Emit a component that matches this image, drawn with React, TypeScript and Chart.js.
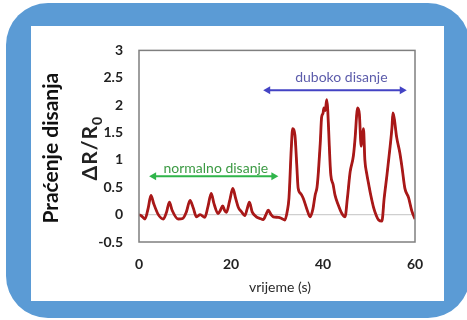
import React, { useEffect, useRef } from "react";
import Chart from "chart.js/auto";

// time (s)
const times = [
  0, 0.5, 1.3, 2.0, 2.6, 3.2, 4.2, 5.3, 6.0, 6.6, 7.2, 8.5, 9.5, 10.3, 11.1, 11.8, 12.5, 13.3, 14.3, 15.0,
  15.7, 16.3, 17.2, 17.7, 18.2, 18.6, 19.0, 19.7, 20.4, 21.0, 21.6, 22.3, 23.0, 23.5, 24.0, 24.6, 25.5, 26.3,
  27.0, 27.6, 28.1, 28.7, 29.2, 30.3, 31.0, 31.7, 32.2, 32.6, 33.1, 33.4, 33.9, 34.3, 34.6, 35.2, 35.7, 36.5,
  37.2, 37.8, 38.3, 38.7, 39.0, 39.4, 39.7, 40.0, 40.2, 40.5, 40.8, 41.0, 41.2, 41.5, 41.7, 42.2, 42.6, 43.3,
  44.1, 44.8, 45.3, 45.9, 46.6, 47.0, 47.3, 47.5, 47.9, 48.3, 48.6, 48.8, 49.1, 49.5, 49.9, 50.4, 51.0, 51.6,
  52.1, 52.8, 53.3, 53.9, 54.6, 55.0, 55.2, 55.5, 56.0, 56.7, 57.2, 57.8, 58.6, 59.3, 60,
];
// ΔR/R0
const signal = [
  0.0, -0.02, -0.08, 0.12, 0.35, 0.2, 0.0, -0.08, 0.05, 0.23, 0.08, -0.08, -0.07, 0.05, 0.26, 0.12, -0.04, 0.0, -0.05, 0.15,
  0.39, 0.2, 0.02, 0.08, 0.16, 0.08, 0.04, 0.25, 0.48, 0.3, 0.13, 0.05, -0.02, 0.1, 0.23, 0.05, -0.04, -0.07,
  -0.09, 0.0, 0.08, 0.0, -0.04, -0.05, -0.07, -0.1, 0.05, 0.3, 1.2, 1.57, 1.45, 0.9, 0.48, 0.38, 0.3, 0.1,
  -0.04, 0.1, 0.36, 0.5, 0.78, 1.3, 1.78, 1.85, 1.95, 1.9, 2.1, 1.95, 1.6, 1.0, 0.72, 0.55, 0.36, 0.18,
  0.02, -0.04, 0.3, 0.78, 1.07, 1.42, 1.8, 1.95, 1.84, 1.25, 1.45, 1.57, 1.0, 0.75, 0.57, 0.35, 0.13, -0.02,
  -0.1, -0.12, 0.3, 0.72, 1.25, 1.6, 1.86, 1.75, 1.42, 1.13, 0.85, 0.48, 0.31, 0.07, -0.08,
];

const xTicksMin = 0;
const xTicksMax = 60;
const xStep = 20;
const yMin = -0.5;
const yMax = 3;
const yStep = 0.5;

const yTitle = "Praćenje disanja";
const yUnitMain = "ΔR/R";
const yUnitSub = "0";
const xTitle = "vrijeme (s)";

// annotation arrows: [startTime, endTime, level]
const normalArrow = [2.2, 30.3, 0.7];
const normalLabel = { text: "normalno disanje", t: 16.7, v: 0.85 };
const deepArrow = [27, 58.2, 2.27];
const deepLabel = { text: "duboko disanje", t: 44, v: 2.51 };

export default function App() {
  const ref = useRef<HTMLCanvasElement | null>(null);

  useEffect(() => {
    if (!ref.current) return;
    const pts = times.map((t, i) => ({ x: t, y: signal[i] }));

    const drawArrow = (ctx: CanvasRenderingContext2D, x1: number, x2: number, yp: number, color: string) => {
      const hl = 7, hw = 4;
      ctx.save();
      ctx.strokeStyle = color;
      ctx.fillStyle = color;
      ctx.lineWidth = 2;
      ctx.beginPath();
      ctx.moveTo(x1 + hl - 1, yp);
      ctx.lineTo(x2 - hl + 1, yp);
      ctx.stroke();
      ctx.beginPath();
      ctx.moveTo(x1, yp);
      ctx.lineTo(x1 + hl, yp - hw);
      ctx.lineTo(x1 + hl, yp + hw);
      ctx.closePath();
      ctx.fill();
      ctx.beginPath();
      ctx.moveTo(x2, yp);
      ctx.lineTo(x2 - hl, yp - hw);
      ctx.lineTo(x2 - hl, yp + hw);
      ctx.closePath();
      ctx.fill();
      ctx.restore();
    };

    const annot = {
      id: "annot",
      afterDatasetsDraw(chart: any) {
        const { ctx, chartArea: a, scales } = chart;
        const xs = scales.x, ys = scales.y;
        ctx.save();
        // plot box
        ctx.strokeStyle = "#7f7f7f";
        ctx.lineWidth = 1.5;
        ctx.strokeRect(a.left, a.top, a.right - a.left, a.bottom - a.top);

        // arrows
        drawArrow(ctx, xs.getPixelForValue(normalArrow[0]), xs.getPixelForValue(normalArrow[1]), ys.getPixelForValue(normalArrow[2]), "#2fb54a");
        drawArrow(ctx, xs.getPixelForValue(deepArrow[0]), xs.getPixelForValue(deepArrow[1]), ys.getPixelForValue(deepArrow[2]), "#4343c4");

        ctx.font = "14px Lato";
        ctx.textAlign = "center";
        ctx.textBaseline = "middle";
        ctx.fillStyle = "#3c9a44";
        ctx.fillText(normalLabel.text, xs.getPixelForValue(normalLabel.t), ys.getPixelForValue(normalLabel.v));
        ctx.fillStyle = "#5c5cab";
        ctx.fillText(deepLabel.text, xs.getPixelForValue(deepLabel.t), ys.getPixelForValue(deepLabel.v));

        // x title
        ctx.fillStyle = "#2a2a2a";
        ctx.font = "14px Lato";
        ctx.textBaseline = "middle";
        ctx.fillText(xTitle, (a.left + a.right) / 2 + 3, a.bottom + 45);

        // y titles
        const cy = (a.top + a.bottom) / 2;
        ctx.save();
        ctx.translate(a.left - 81, cy + 2);
        ctx.rotate(-Math.PI / 2);
        ctx.textAlign = "center";
        ctx.textBaseline = "alphabetic";
        ctx.fillStyle = "#111";
        ctx.font = "bold 21px Lato";
        ctx.fillText(yTitle, 0, 0);
        ctx.restore();

        ctx.save();
        ctx.translate(a.left - 42, cy + 2);
        ctx.rotate(-Math.PI / 2);
        ctx.fillStyle = "#222";
        ctx.textBaseline = "alphabetic";
        ctx.font = "bold 21px Lato";
        (ctx as any).letterSpacing = "1px";
        const mainW = ctx.measureText(yUnitMain).width;
        ctx.font = "bold 14px Lato";
        const subW = ctx.measureText(yUnitSub).width;
        const total = mainW + subW;
        ctx.textAlign = "left";
        ctx.font = "bold 21px Lato";
        ctx.fillText(yUnitMain, -total / 2, 0);
        ctx.font = "bold 14px Lato";
        ctx.fillText(yUnitSub, -total / 2 + mainW, 5);
        ctx.restore();

        ctx.restore();
      },
    };

    const chart = new Chart(ref.current, {
      type: "line",
      data: {
        datasets: [
          {
            data: pts,
            borderColor: "#a81818",
            borderWidth: 2.8,
            pointRadius: 0,
            cubicInterpolationMode: "monotone",
          },
          {
            data: pts,
            borderColor: "#e41c1c",
            borderWidth: 1.5,
            pointRadius: 0,
            cubicInterpolationMode: "monotone",
          },
        ],
      },
      options: {
        animation: false,
        responsive: false,
        maintainAspectRatio: false,
        layout: { padding: { left: 0, right: 29, top: 18, bottom: 0 } },
        plugins: { legend: { display: false }, tooltip: { enabled: false } },
        scales: {
          x: {
            type: "linear",
            min: xTicksMin,
            max: xTicksMax,
            ticks: { stepSize: xStep, font: { family: "Lato", size: 14, weight: "bold" }, color: "#222", padding: 14, maxRotation: 0 },
            grid: { display: false, drawTicks: false },
            border: { display: false },
            afterFit: (s: any) => { s.height = 59; },
          },
          y: {
            min: yMin,
            max: yMax,
            ticks: {
              stepSize: yStep,
              font: { family: "Lato", size: 14, weight: "bold" },
              color: "#222",
              padding: 16,
              callback: (v: any) => String(Math.round(Number(v) * 100) / 100),
            },
            grid: {
              drawTicks: false,
              color: (c: any) => (c.tick && c.tick.value === 0 ? "#cfcfcf" : "rgba(0,0,0,0)"),
              lineWidth: 1.2,
            },
            border: { display: false },
            afterFit: (s: any) => { s.width = 108; },
          },
        },
      },
      plugins: [annot],
    });
    return () => chart.destroy();
  }, []);

  return (
    <div style={{ position: "fixed", left: 0, top: 0, width: 467, height: 320, background: "#fff", overflow: "hidden" }}>
      <div style={{ position: "absolute", left: 6, top: 3, width: 464, height: 315, background: "#5b9bd5", borderRadius: 42 }} />
      <div style={{ position: "absolute", left: 31, top: 26, width: 413, height: 275, background: "#fff" }}>
        <canvas ref={ref} width={413} height={275} style={{ width: 413, height: 275, display: "block" }} />
      </div>
    </div>
  );
}
